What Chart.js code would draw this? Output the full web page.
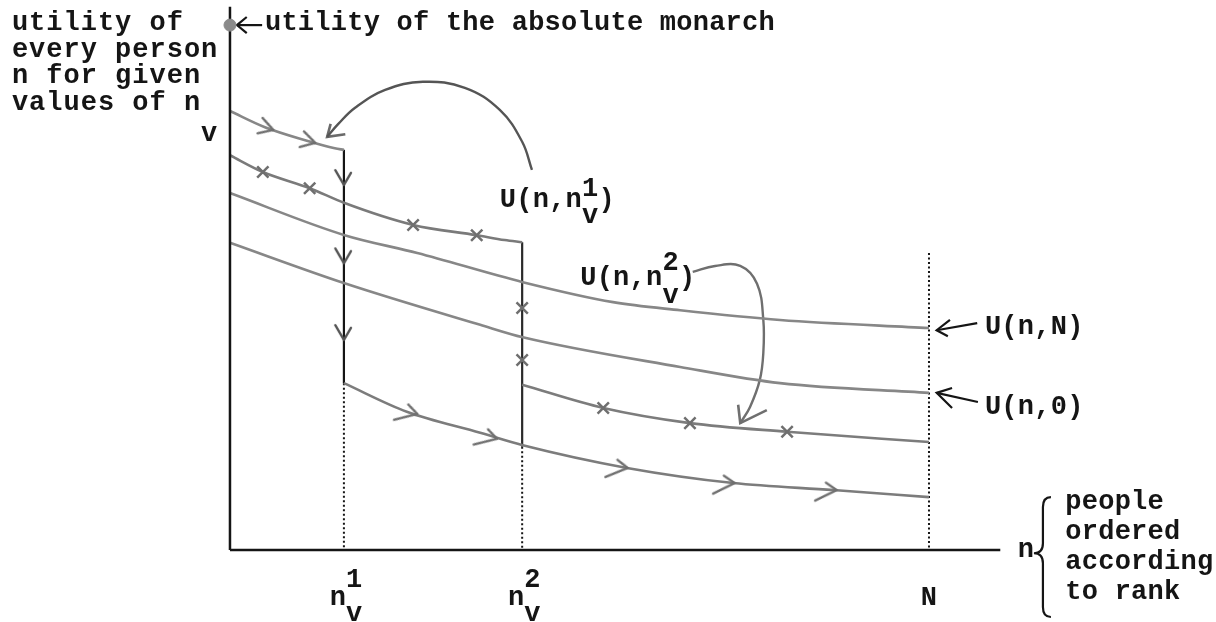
<!DOCTYPE html>
<html>
<head>
<meta charset="utf-8">
<script src="https://cdn.jsdelivr.net/npm/chart.js@4.4.0/dist/chart.umd.min.js"></script>
<style>
  html, body { margin: 0; padding: 0; background: #fff; }
  canvas { display: block; }
</style>
</head>
<body>
<canvas id="chart" width="1216" height="622"></canvas>
<script>
// rank positions on the n axis (N = whole population)
const nV1 = 16.3;
const nV2 = 41.8;
const N = 100;
const tickValues = [nV1, nV2, N];
const xAxisEnd = 110.2;
const yAxisTop = 100.6;
const monarchUtility = 97.2;

// utility curves [n, U]
const pathTop = [[0, 81.3], [5, 78.3], [11, 75.8], [15, 74.4], [nV1, 74.1]];
const pathV1 = [[0, 73.1], [4.7, 70.0], [11.4, 67.0], [16.3, 64.3], [26.2, 60.2], [35.3, 58.3], [39.3, 57.4], [nV2, 57.0]];
const curveUnN = [[0, 66.1], [16.4, 58.3], [26.8, 55.0], [41.9, 49.6], [54.8, 45.9], [64.4, 44.4], [78.7, 42.6], [N, 41.1]];
const curveUn0 = [[0, 56.9], [16.4, 49.4], [35.8, 41.7], [41.9, 39.4], [64.4, 33.9], [78.7, 30.9], [N, 29.1]];
const pathLow1 = [[nV1, 30.9], [25.3, 25.6], [35.8, 21.7], [41.9, 19.4], [56.8, 15.2], [72.0, 12.4], [86.3, 11.1], [N, 9.8]];
const pathLow2 = [[nV2, 30.6], [53.4, 26.3], [65.8, 23.5], [79.7, 21.9], [N, 20.0]];

// jumps at n_v^1 and n_v^2
const dropV1 = [[nV1, 74.1], [nV1, 30.9]];
const dropV2 = [[nV2, 57.0], [nV2, 19.1]];
const guideV1 = [[nV1, 30.9], [nV1, 0]];
const guideV2 = [[nV2, 19.1], [nV2, 0]];
const guideN = [[N, 55.0], [N, 0]];

// markers along the paths
const chevTop = [[6.2, 77.8], [12.2, 75.4]];
const chevDown = [[nV1, 67.6], [nV1, 53.1], [nV1, 38.9]];
const chevLow = [[26.8, 25.2], [38.2, 20.6], [56.9, 15.2], [72.2, 12.4], [86.8, 11.1]];
const crossV1 = [[4.7, 70.0], [11.4, 67.0], [26.2, 60.2], [35.3, 58.3]];
const crossV2 = [[nV2, 44.8], [nV2, 35.2]];
const crossLow = [[53.4, 26.3], [65.8, 23.5], [79.7, 21.9]];

// annotation arrows
const arrow1 = [[43.2, 70.4], [41.8, 75.6], [38.6, 81.5], [33.6, 85.6], [27.6, 86.7], [22.2, 85.2], [17.9, 81.9], [15.5, 78.9], [13.9, 76.5]];
const arrow1Head = [[14.4, 78.9], [13.9, 76.5], [16.5, 77.0]];
const arrow2 = [[66.2, 51.5], [69.4, 52.6], [73.0, 52.6], [75.4, 49.3], [76.3, 42.6], [76.3, 36.5], [75.8, 31.5], [74.4, 26.5], [73.0, 23.5]];
const arrow2Head = [[72.7, 26.9], [73.0, 23.5], [76.8, 25.9]];
const arrowUnN = [[106.9, 42.0], [101.1, 40.7]];
const arrowUnNHead = [[103.0, 42.6], [101.1, 40.7], [102.7, 39.6]];
const arrowUn0 = [[107.0, 27.4], [101.1, 29.1]];
const arrowUn0Head = [[103.3, 30.0], [101.1, 29.1], [103.3, 26.3]];
const arrowMonarch = [[4.6, 97.2], [1.0, 97.2]];
const arrowMonarchHead = [[2.4, 98.7], [1.0, 97.2], [2.4, 95.7]];

const ink = "#151515";
const pencil = "#878787";
const FONT = 'bold 27px "Liberation Mono", "DejaVu Sans Mono", monospace';

const pts = (arr) => arr.map((p) => ({ x: p[0], y: p[1] }));

// arrow-head marker; tip sits on the point, arms trail backwards
function chevron(upper, lower, color) {
  const size = Math.max(upper, lower);
  const c = document.createElement("canvas");
  c.width = c.height = size * 2 + 6;
  const g = c.getContext("2d");
  const m = c.width / 2;
  g.strokeStyle = color;
  g.lineWidth = 2.6;
  g.lineCap = "round";
  g.lineJoin = "round";
  g.beginPath();
  g.moveTo(m - upper * 0.86, m - upper * 0.5);
  g.lineTo(m, m);
  g.lineTo(m - lower * 0.86, m + lower * 0.5);
  g.stroke();
  return c;
}
const chevSmall = chevron(16, 16, "#6f6f6f");
const chevLong = chevron(13, 24, "#6f6f6f");
const chevInk = chevron(14, 17, "#555");

function slopeAngle(curve) {
  return (ctx) => {
    const chart = ctx.chart;
    const raw = ctx.raw;
    if (!raw) return 0;
    let i = 0;
    while (i < curve.length - 2 && curve[i + 1][0] < raw.x) i++;
    const a = curve[i], b = curve[i + 1];
    const sx = chart.scales.x, sy = chart.scales.y;
    const dx = sx.getPixelForValue(b[0]) - sx.getPixelForValue(a[0]);
    const dy = sy.getPixelForValue(b[1]) - sy.getPixelForValue(a[1]);
    return (Math.atan2(dy, dx) * 180) / Math.PI;
  };
}

function line(data, color, width, extra) {
  return Object.assign({
    data: pts(data),
    borderColor: color,
    borderWidth: width,
    pointRadius: 0,
    fill: false,
    tension: 0,
  }, extra || {});
}

function markers(data, style, rotation, extra) {
  return Object.assign({
    data: pts(data),
    showLine: false,
    pointStyle: style,
    pointRadius: 8,
    pointRotation: rotation,
    pointBorderColor: "#6f6f6f",
    pointBackgroundColor: "#6f6f6f",
    pointBorderWidth: 2.5,
  }, extra || {});
}

// text, brace and scripts drawn over the chart
const labelsPlugin = {
  id: "labels",
  afterDatasetsDraw(chart) {
    const { ctx } = chart;
    const sx = chart.scales.x, sy = chart.scales.y;
    const X = (v) => sx.getPixelForValue(v);
    const Y = (v) => sy.getPixelForValue(v);
    ctx.save();
    ctx.font = FONT;
    ctx.fillStyle = ink;
    ctx.textBaseline = "alphabetic";
    ctx.textAlign = "left";

    function scripted(base, sup, sub, tail, px, py, up, down) {
      ctx.fillText(base, px, py);
      const w = ctx.measureText(base).width;
      if (sup) ctx.fillText(sup, px + w, py - up);
      if (sub) ctx.fillText(sub, px + w, py + down);
      if (tail) ctx.fillText(tail, px + w + ctx.measureText(sup || sub).width, py);
    }

    // y axis title
    ctx.letterSpacing = "1px";
    const leftLines = ["utility of", "every person", "n for given"];
    leftLines.forEach((s, i) => ctx.fillText(s, X(-31.2), Y(96.3) + i * 26.6));
    scripted("values of n", "", "v", "", X(-31.2), Y(96.3) + 3 * 26.6, 0, 31);

    ctx.letterSpacing = "0.25px";
    ctx.fillText("utility of the absolute monarch", X(5.0), Y(96.3));

    scripted("U(n,n", "1", "v", ")", X(38.6), Y(63.5), 11, 16);
    scripted("U(n,n", "2", "v", ")", X(50.1), Y(49.1), 15, 18);
    ctx.fillText("U(n,N)", X(108.0), Y(40.0));
    ctx.fillText("U(n,0)", X(108.0), Y(25.2));

    // tick labels
    const tickBase = Y(-10.2);
    [["1", tickValues[0]], ["2", tickValues[1]]].forEach(([k, v]) => {
      const px = X(v);
      ctx.textAlign = "center";
      ctx.fillText("n", px - 6, tickBase);
      ctx.textAlign = "left";
      ctx.fillText(k, px + 2, tickBase - 18);
      ctx.fillText("v", px + 2, tickBase + 16);
    });
    ctx.textAlign = "center";
    ctx.fillText("N", X(tickValues[2]), tickBase);
    ctx.textAlign = "left";

    // x axis title with brace
    ctx.fillText("n", X(112.7), Y(-1.3));
    const rightLines = ["people", "ordered", "according", "to rank"];
    rightLines.forEach((s, i) => ctx.fillText(s, X(119.5), Y(7.6) + i * 30));

    const bx = X(116.3), top = Y(9.8), bot = Y(-12.4), mid = Y(-0.6);
    ctx.strokeStyle = ink;
    ctx.lineWidth = 2.2;
    ctx.beginPath();
    ctx.moveTo(bx + 8, top);
    ctx.quadraticCurveTo(bx, top, bx, top + 10);
    ctx.lineTo(bx, mid - 10);
    ctx.quadraticCurveTo(bx, mid, bx - 9, mid);
    ctx.quadraticCurveTo(bx, mid, bx, mid + 10);
    ctx.lineTo(bx, bot - 10);
    ctx.quadraticCurveTo(bx, bot, bx + 8, bot);
    ctx.stroke();
    ctx.restore();
  },
};

new Chart(document.getElementById("chart"), {
  type: "line",
  data: {
    datasets: [
      markers([[0, monarchUtility]], "circle", 0, { pointRadius: 6, pointBackgroundColor: "#8a8a8a", pointBorderColor: "#8a8a8a", pointBorderWidth: 1 }),
      markers(chevTop, chevSmall, slopeAngle(pathTop)),
      markers(chevDown, chevInk, 90),
      markers(chevLow, chevLong, slopeAngle(pathLow1)),
      markers(crossV1, "crossRot", 0),
      markers(crossV2, "crossRot", 0),
      markers(crossLow, "crossRot", 0),

      line([[0, 0], [xAxisEnd, 0]], ink, 2.5),
      line([[0, 0], [0, yAxisTop]], ink, 2.5),

      line(pathTop, pencil, 2.6, { tension: 0.4, cubicInterpolationMode: "monotone" }),
      line(pathV1, "#7a7a7a", 2.6, { tension: 0.4, cubicInterpolationMode: "monotone" }),
      line(curveUnN, pencil, 2.6, { tension: 0.4, cubicInterpolationMode: "monotone" }),
      line(curveUn0, pencil, 2.6, { tension: 0.4, cubicInterpolationMode: "monotone" }),
      line(pathLow1, "#7c7c7c", 2.6, { tension: 0.4, cubicInterpolationMode: "monotone" }),
      line(pathLow2, "#7c7c7c", 2.6, { tension: 0.4, cubicInterpolationMode: "monotone" }),

      line(dropV1, ink, 2.2),
      line(dropV2, "#2a2a2a", 2.2),
      line(guideV1, ink, 2, { borderDash: [2, 2.5] }),
      line(guideV2, ink, 2, { borderDash: [2, 2.5] }),
      line(guideN, ink, 2, { borderDash: [2, 2.5] }),

      line(arrow1, "#555", 2.4, { tension: 0.4 }),
      line(arrow1Head, "#6a6a6a", 2.6),
      line(arrow2, "#6f6f6f", 2.4, { tension: 0.4 }),
      line(arrow2Head, "#6f6f6f", 2.6),
      line(arrowUnN, ink, 2.2),
      line(arrowUnNHead, ink, 2.2),
      line(arrowUn0, ink, 2.2),
      line(arrowUn0Head, ink, 2.2),
      line(arrowMonarch, ink, 2.2),
      line(arrowMonarchHead, ink, 2.2),
    ],
  },
  options: {
    responsive: false,
    animation: false,
    devicePixelRatio: 1,
    layout: { padding: 0, autoPadding: false },
    scales: {
      x: { type: "linear", display: false, min: -32.9, max: 141.06 },
      y: { type: "linear", display: false, min: -13.33, max: 101.85 },
    },
    plugins: {
      legend: { display: false },
      tooltip: { enabled: false },
    },
  },
  plugins: [labelsPlugin],
});
</script>
</body>
</html>
